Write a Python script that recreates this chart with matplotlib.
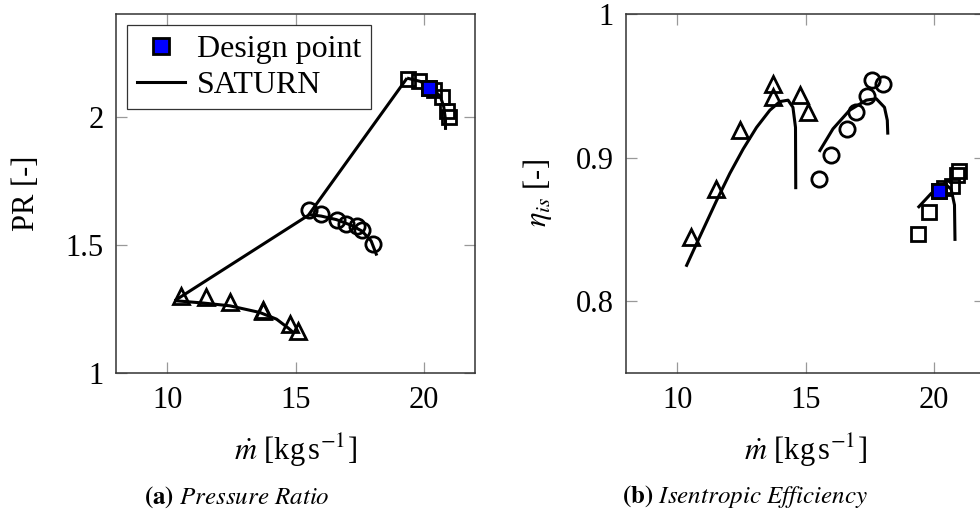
import matplotlib
matplotlib.use("Agg")
import matplotlib.pyplot as plt
from matplotlib.lines import Line2D

plt.rcParams['font.family'] = ['Liberation Serif', 'DejaVu Serif']
plt.rcParams['mathtext.fontset'] = 'stix'

# ---- measured points (mass flow [kg/s]) ----
tri_m = [10.55, 11.50, 12.44, 13.72, 13.74, 14.79, 15.08]
tri_pr = [1.302, 1.298, 1.278, 1.247, 1.243, 1.190, 1.165]
tri_eta = [0.845, 0.878, 0.9195, 0.942, 0.951, 0.9435, 0.932]

circ_m = [15.52, 15.98, 16.61, 16.95, 17.40, 17.60, 18.02]
circ_pr = [1.635, 1.622, 1.598, 1.582, 1.574, 1.556, 1.505]
circ_eta = [0.885, 0.902, 0.920, 0.932, 0.943, 0.954, 0.951]

sq_m = [19.40, 19.80, 20.20, 20.40, 20.70, 20.90, 21.00]
sq_pr = [2.146, 2.137, 2.111, 2.102, 2.075, 2.020, 2.000]
sq_eta = [0.847, 0.862, 0.877, 0.879, 0.880, 0.888, 0.891]

design_m = [20.2]
design_pr = [2.11]
design_eta = [0.877]

# ---- SATURN curves ----
sat_tri_m = [10.29, 11.39, 12.44, 13.61, 14.26, 14.72, 14.95]
sat_tri_pr = [1.282, 1.273, 1.262, 1.236, 1.210, 1.175, 1.155]
surge_m = [10.29, 15.50, 19.35]
surge_pr = [1.282, 1.615, 2.150]
sat_circ_m = [15.50, 16.00, 16.60, 17.20, 17.60, 17.95, 18.17]
sat_circ_pr = [1.618, 1.612, 1.598, 1.575, 1.553, 1.515, 1.458]
sat_sq_m = [19.35, 19.87, 20.33, 20.65, 20.78, 20.85, 20.85]
sat_sq_pr = [2.150, 2.137, 2.111, 2.078, 2.039, 1.987, 1.948]

sat_tri_eta_m = [10.34, 10.75, 11.14, 11.53, 12.05, 12.57, 13.09, 13.61, 14.00, 14.32, 14.51, 14.61, 14.62]
sat_tri_eta = [0.824, 0.840, 0.855, 0.870, 0.889, 0.906, 0.921, 0.933, 0.939, 0.940, 0.935, 0.921, 0.878]
sat_circ_eta_m = [15.53, 16.07, 16.72, 17.37, 17.76, 18.08, 18.19, 18.21]
sat_circ_eta = [0.904, 0.920, 0.933, 0.940, 0.941, 0.935, 0.926, 0.916]
sat_sq_eta_m = [19.38, 19.90, 20.42, 20.68, 20.81, 20.83]
sat_sq_eta = [0.865, 0.875, 0.882, 0.878, 0.867, 0.842]

xticks = [10, 15, 20]
pr_ticks = [1, 1.5, 2]
pr_ticklabels = ['1', '1.5', '2']
eta_ticks = [0.8, 0.9, 1.0]
eta_ticklabels = ['0.8', '0.9', '1']

fig = plt.figure(figsize=(9.8, 5.2), dpi=100)
W, H = 980, 520
axw = 359 / W
axh = 359 / H
ax1 = fig.add_axes([116 / W, 1 - 373 / H, axw, axh])
ax2 = fig.add_axes([626 / W, 1 - 373 / H, axw, axh])

LW = 2.2
MS = dict(mfc='none', mec='black', mew=2.0, ls='none')

def style(ax):
    for s in ax.spines.values():
        s.set_color('0.2')
        s.set_linewidth(1.1)
    ax.tick_params(direction='in', length=8, width=0.9, color='0.6',
                   top=True, right=True, labelsize=22, pad=9)
    ax.set_xlim(8, 22)
    ax.set_xticks(xticks)
    ax.set_xticklabels([str(t) for t in xticks])
    ax.set_xlabel(r'$\dot{m}$ [kg$\,$s$^{-1}$]', fontsize=22)
    ax.xaxis.set_label_coords(0.5, -77 / 359)
    ax.xaxis.label.set_va('center')

# ---- Pressure ratio ----
for xm, yv in [(sat_tri_m, sat_tri_pr), (surge_m, surge_pr),
               (sat_circ_m, sat_circ_pr), (sat_sq_m, sat_sq_pr)]:
    ax1.plot(xm, yv, color='black', lw=LW, solid_capstyle='butt')
ax1.plot(tri_m, tri_pr, marker='^', ms=11.5, **MS)
ax1.plot(circ_m, circ_pr, marker='o', ms=11, **MS)
ax1.plot(sq_m, sq_pr, marker='s', ms=10, **MS)
ax1.plot(design_m, design_pr, marker='s', ms=10, mfc='blue', mec='black', mew=2.0, ls='none', zorder=5)
style(ax1)
ax1.set_ylim(1, 2.4)
ax1.set_yticks(pr_ticks)
ax1.set_yticklabels(pr_ticklabels)
ax1.set_ylabel('PR [-]', fontsize=22)
ax1.yaxis.set_label_coords(-89 / 359, 0.5)
ax1.yaxis.label.set_va('center')

handles = [Line2D([], [], marker='s', ms=11, mfc='blue', mec='black', mew=2.0, ls='none'),
           Line2D([], [], color='black', lw=LW)]
leg = ax1.legend(handles, ['Design point', 'SATURN'], loc='upper left',
                 bbox_to_anchor=(11 / 359, 1 - 11 / 359), borderaxespad=0,
                 fontsize=23, frameon=True, fancybox=False, handlelength=1.5,
                 handletextpad=0.4, labelspacing=0.2, borderpad=0.3)
leg.get_frame().set_edgecolor('black')
leg.get_frame().set_linewidth(0.9)

# ---- Isentropic efficiency ----
for xm, yv in [(sat_tri_eta_m, sat_tri_eta), (sat_circ_eta_m, sat_circ_eta),
               (sat_sq_eta_m, sat_sq_eta)]:
    ax2.plot(xm, yv, color='black', lw=LW, solid_capstyle='butt')
ax2.plot(tri_m, tri_eta, marker='^', ms=11.5, **MS)
ax2.plot(circ_m, circ_eta, marker='o', ms=11, **MS)
ax2.plot(sq_m, sq_eta, marker='s', ms=10, **MS)
ax2.plot(design_m, design_eta, marker='s', ms=10, mfc='blue', mec='black', mew=2.0, ls='none', zorder=5)
style(ax2)
ax2.set_ylim(0.75, 1.0)
ax2.set_yticks(eta_ticks)
ax2.set_yticklabels(eta_ticklabels)
ax2.set_ylabel(r'$\eta_{is}$ [-]', fontsize=22)
ax2.yaxis.set_label_coords(-89 / 359, 0.5)
ax2.yaxis.label.set_va('center')

# ---- captions ----
fig.text(237 / W, 1 - 497 / H, r'$\mathbf{(a)}$ $\mathit{Pressure\ Ratio}$', fontsize=18,
         ha='center', va='center')
fig.text(745 / W, 1 - 497 / H, r'$\mathbf{(b)}$ $\mathit{Isentropic\ Efficiency}$', fontsize=18,
         ha='center', va='center')

fig.savefig('out.png', dpi=100)
